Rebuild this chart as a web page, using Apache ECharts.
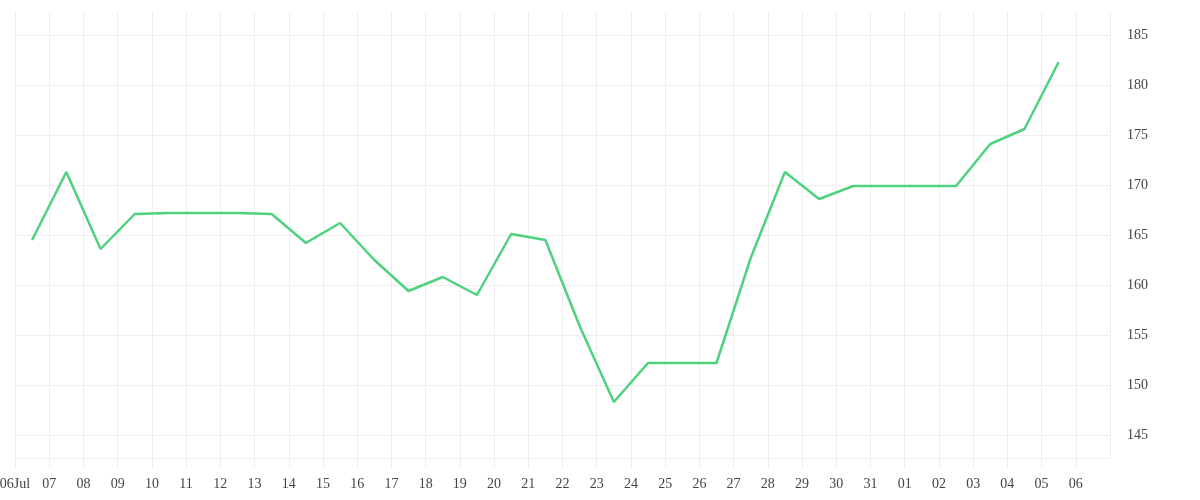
<!DOCTYPE html>
<html>
<head>
<meta charset="utf-8">
<script src="https://cdn.jsdelivr.net/npm/echarts@6/dist/echarts.min.js"></script>
<style>
html,body{margin:0;padding:0;background:#fff;}
#chart{width:1200px;height:500px;}
</style>
</head>
<body>
<div id="chart"></div>
<script>
// Dates (one point per day, plotted at midday)
var dates = [
  '2023-07-06','2023-07-07','2023-07-08','2023-07-09','2023-07-10','2023-07-11','2023-07-12',
  '2023-07-13','2023-07-14','2023-07-15','2023-07-16','2023-07-17','2023-07-18','2023-07-19',
  '2023-07-20','2023-07-21','2023-07-22','2023-07-23','2023-07-24','2023-07-25','2023-07-26',
  '2023-07-27','2023-07-28','2023-07-29','2023-07-30','2023-07-31','2023-08-01','2023-08-02',
  '2023-08-03','2023-08-04','2023-08-05'
];
var values = [
  164.5, 171.3, 163.6, 167.1, 167.2, 167.2, 167.2,
  167.1, 164.2, 166.2, 162.5, 159.4, 160.8, 159.0,
  165.1, 164.5, 155.9, 148.3, 152.2, 152.2, 152.2,
  162.7, 171.3, 168.6, 169.9, 169.9, 169.9, 169.9,
  174.1, 175.6, 182.3
];
var xStart = '2023-07-06';
var xEnd = '2023-08-07';
var yMin = 142.7;
var yMax = 187.3;

var DAY = 86400000;
function toUTC(s){ var p = s.split('-'); return Date.UTC(+p[0], +p[1]-1, +p[2]); }
var monthNames = ['Jan','Feb','Mar','Apr','May','Jun','Jul','Aug','Sep','Oct','Nov','Dec'];
var seriesData = dates.map(function(d, i){ return [toUTC(d) + DAY/2, values[i]]; });

var font = '"Liberation Serif", "DejaVu Serif", serif';
var chart = echarts.init(document.getElementById('chart'));
chart.setOption({
  animation: false,
  backgroundColor: '#fff',
  grid: { left: 15, right: 90, top: 12, bottom: 42, containLabel: false, outerBoundsMode: 'none' },
  xAxis: {
    type: 'value',
    min: toUTC(xStart),
    max: toUTC(xEnd),
    interval: DAY,
    axisLine: { show: true, lineStyle: { color: '#eeeeee', width: 1 } },
    axisTick: { show: true, length: 10, lineStyle: { color: '#eeeeee' } },
    splitLine: { show: true, lineStyle: { color: '#eeeeee', width: 1 } },
    axisLabel: {
      margin: 19,
      color: '#444',
      fontFamily: font,
      fontSize: 14,
      showMaxLabel: false,
      hideOverlap: false,
      formatter: function(v, idx){
        var d = new Date(v);
        var dd = ('0' + d.getUTCDate()).slice(-2);
        return idx === 0 ? dd + monthNames[d.getUTCMonth()] : dd;
      }
    }
  },
  yAxis: {
    type: 'value',
    position: 'right',
    min: yMin,
    max: yMax,
    splitNumber: 9,
    axisLine: { show: false },
    axisTick: { show: false },
    splitLine: { show: true, showMaxLine: false, lineStyle: { color: '#eeeeee', width: 1 } },
    axisLabel: {
      margin: 17,
      color: '#444',
      fontFamily: font,
      fontSize: 14,
      verticalAlign: 'middle',
      padding: [6, 0, 0, 0],
      showMinLabel: false,
      showMaxLabel: false
    }
  },
  series: [{
    type: 'line',
    data: seriesData,
    showSymbol: false,
    symbol: 'none',
    lineStyle: { color: '#4fd27e', width: 2.5 },
    itemStyle: { color: '#4fd27e' }
  }]
});
</script>
</body>
</html>
